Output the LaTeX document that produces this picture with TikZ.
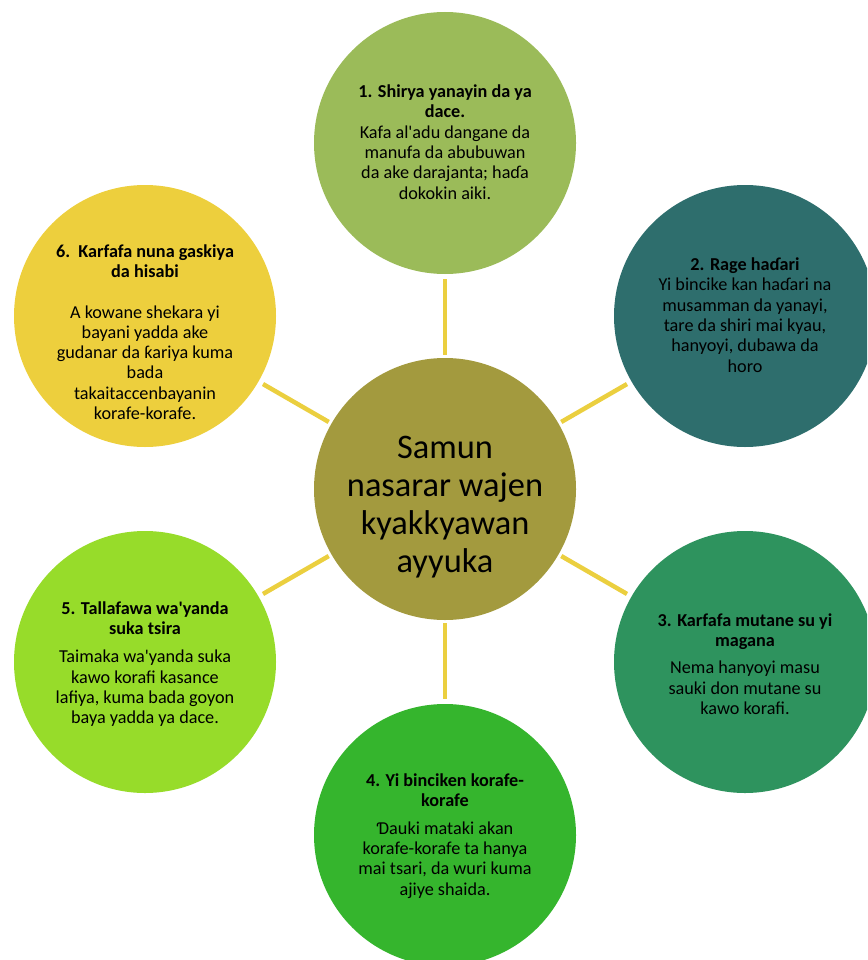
\documentclass[tikz,border=0pt]{standalone}
\usepackage{fontspec}
\setmainfont{Carlito}
\definecolor{cC}{HTML}{A39A3E}
\definecolor{cA}{HTML}{9BBB59}
\definecolor{cB}{HTML}{2E6E6D}
\definecolor{cD}{HTML}{2E935E}
\definecolor{cE}{HTML}{35B52D}
\definecolor{cF}{HTML}{97DC2A}
\definecolor{cG}{HTML}{EDCF3D}
\definecolor{lineY}{HTML}{EBCF3F}
\newcommand{\aq}{\textquotesingle}
\begin{document}
\begin{tikzpicture}[x=1pt,y=-1pt,
  bub/.style={circle, minimum size=262pt, inner sep=0pt, draw=none},
  txt/.style={align=center, inner sep=0pt, text=black, font=\fontsize{18.2}{20.3}\selectfont},
  link/.style={draw=lineY, line width=4.5pt, shorten <=3pt, shorten >=5pt}]
\useasboundingbox (0,0) rectangle (867,960);
\clip (0,0) rectangle (867,960);
\node[bub, fill=cC] (c) at (445,489) {};
\node[bub, fill=cA] (n1) at (445,143) {};
\node[bub, fill=cB] (n2) at (745,316) {};
\node[bub, fill=cD] (n3) at (745,662) {};
\node[bub, fill=cE] (n4) at (445,835) {};
\node[bub, fill=cF] (n5) at (145,662) {};
\node[bub, fill=cG] (n6) at (145,316) {};
\foreach \n in {n1,n2,n3,n4,n5,n6} \draw[link] (c) -- (\n);
\node[align=center, inner sep=0pt, font=\fontsize{34.4}{38}\selectfont] (tc) at (445,507)
  {Samun\\ nasarar wajen\\ kyakkyawan\\ ayyuka};
\node[txt] (t1) at (445,142) {\textbf{1. Shirya yanayin da ya}\\ \textbf{dace.}\\ Kafa al\aq adu dangane da\\ manufa da abubuwan\\ da ake darajanta; haɗa\\ dokokin aiki.};
\node[txt] (t2) at (745,315) {\textbf{2. Rage haɗari}\\ Yi bincike kan haɗari na\\ musamman da yanayi,\\ tare da shiri mai kyau,\\ hanyoyi, dubawa da\\ horo};
\node[txt] (t3) at (745,664) {\textbf{3. Karfafa mutane su yi}\\ \textbf{magana}\\[7pt] Nema hanyoyi masu\\ sauki don mutane su\\ kawo korafi.};
\node[txt] (t4) at (445,836) {\textbf{4. Yi binciken korafe-}\\ \textbf{korafe}\\[7pt] Ɗauki mataki akan\\ korafe-korafe ta hanya\\ mai tsari, da wuri kuma\\ ajiye shaida.};
\node[txt] (t5) at (145,664) {\textbf{5. Tallafawa wa\aq yanda}\\ \textbf{suka tsira}\\[8pt] Taimaka wa\aq yanda suka\\ kawo korafi kasance\\ lafiya, kuma bada goyon\\ baya yadda ya dace.};
\node[txt] (t6) at (145,332) {\textbf{6.\ \ Karfafa nuna gaskiya}\\ \textbf{da hisabi}\\[20.3pt] A kowane shekara yi\\ bayani yadda ake\\ gudanar da ƙariya kuma\\ bada\\ takaitaccenbayanin\\ korafe-korafe.};
\end{tikzpicture}
\end{document}
